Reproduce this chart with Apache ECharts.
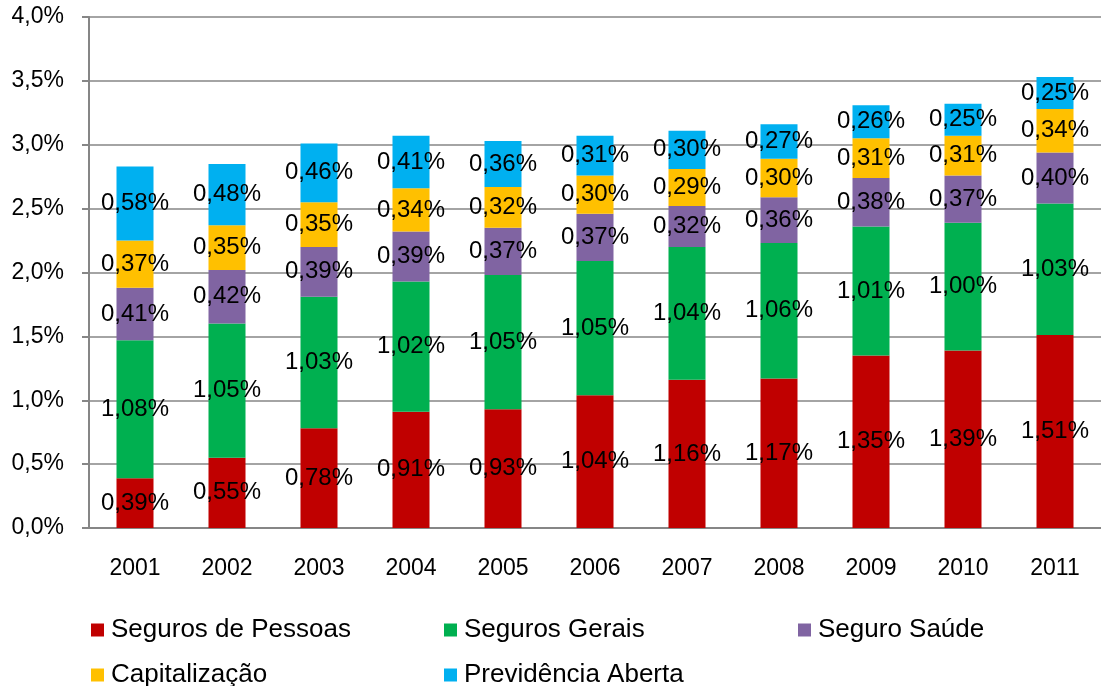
<!DOCTYPE html>
<html>
<head>
<meta charset="utf-8">
<script src="https://cdn.jsdelivr.net/npm/echarts@6/dist/echarts.min.js"></script>
<style>
  html, body { margin: 0; padding: 0; background: #fff; }
  #chart { width: 1101px; height: 686px; }
</style>
</head>
<body>
<div id="chart"></div>
<script>
const years = ["2001", "2002", "2003", "2004", "2005", "2006", "2007", "2008", "2009", "2010", "2011"];
const segurosPessoas = [0.39, 0.55, 0.78, 0.91, 0.93, 1.04, 1.16, 1.17, 1.35, 1.39, 1.51];
const segurosGerais = [1.08, 1.05, 1.03, 1.02, 1.05, 1.05, 1.04, 1.06, 1.01, 1.00, 1.03];
const seguroSaude = [0.41, 0.42, 0.39, 0.39, 0.37, 0.37, 0.32, 0.36, 0.38, 0.37, 0.40];
const capitalizacao = [0.37, 0.35, 0.35, 0.34, 0.32, 0.30, 0.29, 0.30, 0.31, 0.31, 0.34];
const previdencia = [0.58, 0.48, 0.46, 0.41, 0.36, 0.31, 0.30, 0.27, 0.26, 0.25, 0.25];

const font = "'Liberation Sans', Arial, sans-serif";

var chart = echarts.init(document.getElementById("chart"));

function makeSeries(name, data, color) {
  return {
    name: name,
    type: "bar",
    stack: "total",
    barWidth: 37,
    data: data,
    itemStyle: { color: color },
    label: {
      show: true,
      position: "inside",
      color: "#000",
      fontFamily: font,
      fontSize: 24,
      formatter: (p) => p.value.toFixed(2).replace(".", ",") + "%",
    },
  };
}

function makeLegend(name, left, top) {
  return {
    data: [name],
    left: left,
    top: top,
    padding: 0,
    icon: "rect",
    itemWidth: 13,
    itemHeight: 13,
    textStyle: { fontFamily: font, fontSize: 26, color: "#000", padding: [0, 0, 0, 2] },
  };
}

chart.setOption({
  animation: false,
  backgroundColor: "#fff",
  grid: { left: 89, right: 0, top: 17, bottom: 158 },
  legend: [
    makeLegend("Seguros de Pessoas", 91, 617),
    makeLegend("Seguros Gerais", 444, 617),
    makeLegend("Seguro Saúde", 798, 617),
    makeLegend("Capitalização", 91, 662),
    makeLegend("Previdência Aberta", 444, 662),
  ],
  xAxis: {
    type: "category",
    data: years,
    axisLine: { lineStyle: { color: "#868686", width: 2 } },
    axisTick: { length: 7, lineStyle: { color: "#868686", width: 2 } },
    axisLabel: { margin: 29, color: "#000", fontFamily: font, fontSize: 23 },
  },
  yAxis: {
    type: "value",
    min: 0,
    max: 4,
    interval: 0.5,
    axisLine: { show: true, lineStyle: { color: "#868686", width: 2 } },
    axisTick: { show: true, length: 7, lineStyle: { color: "#868686", width: 2 } },
    splitLine: { lineStyle: { color: "#868686", width: 1.5 } },
    axisLabel: {
      margin: 25,
      color: "#000",
      fontFamily: font,
      fontSize: 23,
      formatter: (v) => v.toFixed(1).replace(".", ",") + "%",
    },
  },
  series: [
    makeSeries("Seguros de Pessoas", segurosPessoas, "#C00000"),
    makeSeries("Seguros Gerais", segurosGerais, "#00B050"),
    makeSeries("Seguro Saúde", seguroSaude, "#8064A2"),
    makeSeries("Capitalização", capitalizacao, "#FFC000"),
    makeSeries("Previdência Aberta", previdencia, "#00B0F0"),
  ],
});
</script>
</body>
</html>
